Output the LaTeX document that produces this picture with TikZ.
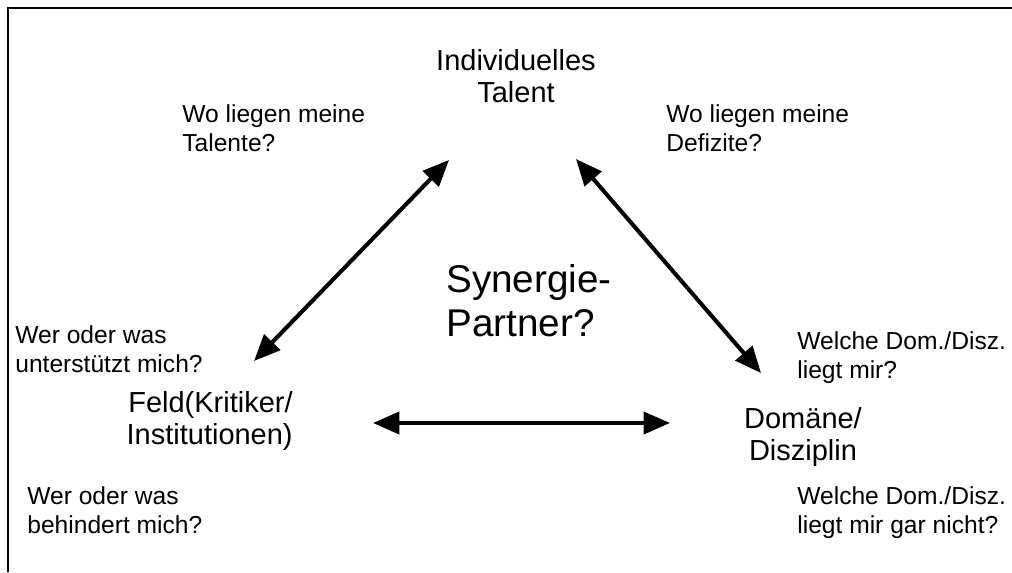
\documentclass[tikz,border=0pt]{standalone}
\usepackage{fontspec}
\setmainfont{Liberation Sans}
\usetikzlibrary{arrows.meta}

\begin{document}
\begin{tikzpicture}[x=0.02cm, y=-0.02cm,
    corner/.style={font=\fontsize{16.5}{18.5}\selectfont, inner sep=0pt},
    question/.style={font=\fontsize{14}{16.6}\selectfont, align=left, anchor=west, inner sep=0pt},
    link/.style={line width=2.3pt, {Triangle[length=15pt,width=12.5pt]}-{Triangle[length=15pt,width=12.5pt]}}]

\useasboundingbox (0,0) rectangle (1012,572);
\draw[line width=1.1pt] (8,572) -- (8,8) -- (1012,8);

% the three corners
\node[corner, align=center] (talent) at (516,76) {Individuelles\\Talent};
\node[corner, align=right, anchor=east] (feld) at (293,421) {Feld(Kritiker/\\Institutionen)};
\node[corner, align=center] (domaene) at (803,437) {Domäne/\\Disziplin};
\node[font=\fontsize{22}{25}\selectfont, align=left, anchor=west, inner sep=0pt] (synergie) at (446,301) {Synergie-\\Partner?};

% questions
\node[question] (talente) at (182,128) {Wo liegen meine\\Talente?};
\node[question] (defizite) at (666,128) {Wo liegen meine\\Defizite?};
\node[question] (unterstuetzt) at (15,349) {Wer oder was\\unterstützt mich?};
\node[question] (behindert) at (27,510) {Wer oder was\\behindert mich?};
\node[question] (liegtmir) at (797,358) {Welche Dom./Disz.\\liegt mir?};
\node[question] (liegtnicht) at (797,513) {Welche Dom./Disz.\\liegt mir gar nicht?};

% arrows
\coordinate (talent-l) at (449,160);
\coordinate (talent-r) at (576,159);
\coordinate (feld-t) at (254,361);
\coordinate (feld-r) at (373,423);
\coordinate (domaene-t) at (761,373);
\coordinate (domaene-l) at (670,423);

\draw[link] (feld-t) -- (talent-l);
\draw[link] (talent-r) -- (domaene-t);
\draw[link] (feld-r) -- (domaene-l);
\end{tikzpicture}
\end{document}
